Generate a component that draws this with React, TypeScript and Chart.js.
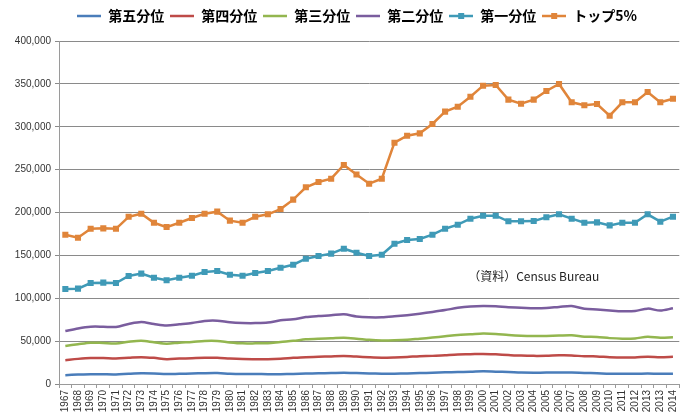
import React, { useEffect, useRef } from 'react';
import { Chart, registerables } from 'chart.js';
Chart.register(...registerables);

const years = ['1967','1968','1969','1970','1971','1972','1973','1974','1975','1976','1977','1978','1979','1980','1981','1982','1983','1984','1985','1986','1987','1988','1989','1990','1991','1992','1993','1994','1995','1996','1997','1998','1999','2000','2001','2002','2003','2004','2005','2006','2007','2008','2009','2010','2011','2012','2013','2013','2014'];

const seriesNames = ['第五分位', '第四分位', '第三分位', '第二分位', '第一分位', 'トップ5%'];

const q5 = [10300,11000,11500,11300,11200,11900,12400,12200,11600,11900,12200,12600,12700,12000,11700,11700,11500,11500,11800,12100,12500,12800,13200,12800,12300,12000,12000,12300,12700,13000,13600,14000,14200,14800,14400,14000,13400,13200,13300,13500,13400,12900,12500,12000,12000,12000,12100,12000,12000];
const q4 = [27800,29300,30300,30200,29800,30600,31300,30500,29000,29600,30100,30600,30700,29700,29100,29000,29000,29500,30500,31300,31700,32200,32600,32000,31200,30700,31000,31600,32400,32800,33600,34400,34700,35100,34600,33800,33100,32800,32900,33400,33300,32300,32200,31100,31000,31000,31800,31300,31700];
const q3 = [44300,46400,48200,47800,47300,49200,50300,48600,47000,48200,49000,50200,50200,48500,47400,47400,47600,49100,50300,52100,52900,53300,53900,52900,51500,50800,51000,51600,52900,54100,55600,57200,57900,58800,58300,57100,56300,56000,56100,56500,56800,55200,54800,53500,52900,53200,55100,53900,54400];
const q2 = [61700,64800,66800,66800,66500,70000,72300,70000,68200,69600,71100,73500,73800,71900,71100,71000,71600,74300,75400,78100,79300,80100,81300,78800,77800,77800,78900,80300,82000,84000,86200,88800,90400,91000,90600,89400,89000,88300,88600,89900,91000,87800,86800,85700,84800,85100,87900,85600,88300];
const q1 = [110800,111200,117800,118200,117800,126000,128700,124000,120900,124000,126300,130600,131800,127500,126300,129400,131800,135600,139100,146100,149300,152000,157800,153100,149300,150800,163600,167900,169100,174100,181100,185800,192800,196300,196300,189700,189700,190000,194400,197900,192800,188100,188500,185000,188100,188100,197900,189300,195100];
const top5 = [174100,170600,181000,181500,181000,195000,198600,188000,183000,188000,193600,198600,201000,190500,188000,195000,197900,204000,215000,229400,235500,239400,255400,244300,233600,239400,281400,289600,292300,303200,317600,323400,335000,347900,348700,331600,326900,331600,341700,349900,328500,325000,326500,312900,328500,328500,340500,328500,332700];

const yTicksMax = 400000;
const yStep = 50000;
const sourceNote = '（資料）Census Bureau';

const colors = ['#4A7DBA', '#BE4B48', '#93B64F', '#7A5D9E', '#3F9AB7', '#E0853A'];
const markers = [false, false, false, false, true, true];

function legendIcon(color: string, marker: boolean) {
  const c = document.createElement('canvas');
  c.width = 24;
  c.height = 10;
  const ctx = c.getContext('2d')!;
  ctx.strokeStyle = color;
  ctx.lineWidth = 2.5;
  ctx.beginPath();
  ctx.moveTo(0, 5);
  ctx.lineTo(24, 5);
  ctx.stroke();
  if (marker) {
    ctx.fillStyle = color;
    ctx.fillRect(9, 2, 6, 6);
  }
  return c;
}

export default function App() {
  const ref = useRef<HTMLCanvasElement>(null);
  useEffect(() => {
    document.body.style.margin = '0';
    const allData = [q5, q4, q3, q2, q1, top5];
    const icons = colors.map((c, i) => legendIcon(c, markers[i]));
    const chart = new Chart(ref.current!, {
      type: 'line',
      data: {
        labels: years,
        datasets: allData.map((d, i) => ({
          label: seriesNames[i],
          data: d,
          borderColor: colors[i],
          backgroundColor: colors[i],
          borderWidth: 2.5,
          pointStyle: 'rect',
          pointRadius: markers[i] ? 4.3 : 0,
          pointBorderWidth: 0,
          tension: markers[i] ? 0 : 0.3,
          fill: false,
        })),
      },
      options: {
        animation: false,
        responsive: false,
        layout: { padding: { left: 0, right: 1, top: 0, bottom: 0 } },
        plugins: {
          tooltip: { enabled: false },
          legend: {
            position: 'top',
            labels: {
              usePointStyle: true,
              pointStyleWidth: 24,
              padding: 6,
              color: '#222',
              font: { family: '"Noto Sans CJK JP"', size: 14, weight: 'bold' },
              generateLabels: (ch: any) =>
                ch.data.datasets.map((ds: any, i: number) => ({
                  text: ds.label,
                  fillStyle: colors[i],
                  strokeStyle: colors[i],
                  lineWidth: 0,
                  pointStyle: icons[i],
                  datasetIndex: i,
                  hidden: false,
                })),
            },
          },
        },
        scales: {
          x: {
            offset: true,
            grid: { display: true, drawOnChartArea: false, drawTicks: true, tickLength: 4, color: '#9a9a9a', offset: true },
            border: { color: '#9a9a9a', width: 1 },
            ticks: {
              autoSkip: false,
              maxRotation: 90,
              minRotation: 90,
              padding: 2,
              color: '#333',
              font: { family: '"Liberation Sans"', size: 10 },
            },
            afterFit: (s: any) => { s.height = 30; },
          },
          y: {
            min: 0,
            max: yTicksMax,
            ticks: {
              stepSize: yStep,
              padding: 4,
              color: '#333',
              font: { family: '"Liberation Sans"', size: 10 },
              callback: (v: any) => Number(v).toLocaleString('en-US'),
            },
            grid: { color: '#8a8a8a', tickLength: 4, lineWidth: 1 },
            border: { color: '#9a9a9a', width: 1 },
            afterFit: (s: any) => { s.width = 59; },
          },
        },
      },
      plugins: [
        {
          id: 'legendFix',
          beforeInit(ch: any) {
            const orig = ch.legend.fit;
            ch.legend.fit = function () {
              orig.call(this);
              this.height = 41;
            };
          },
          afterLayout(ch: any) {
            ch.legend.left += 14;
            ch.legend.right += 14;
            ch.legend.top += 3;
            ch.legend.bottom += 3;
          },
        },
        {
          id: 'note',
          afterDatasetsDraw(ch: any) {
            const ctx = ch.ctx;
            const xs = ch.scales.x;
            const ys = ch.scales.y;
            ctx.save();
            ctx.font = '12px "Noto Sans CJK JP"';
            ctx.fillStyle = '#222';
            ctx.textAlign = 'center';
            ctx.textBaseline = 'middle';
            ctx.fillText(sourceNote, xs.getPixelForValue(37.0), ys.getPixelForValue(125000));
            ctx.restore();
          },
        },
      ],
    } as any);
    return () => chart.destroy();
  }, []);
  return (
    <div style={{ width: 687, height: 414 }}>
      <canvas ref={ref} width={687} height={414} />
    </div>
  );
}
